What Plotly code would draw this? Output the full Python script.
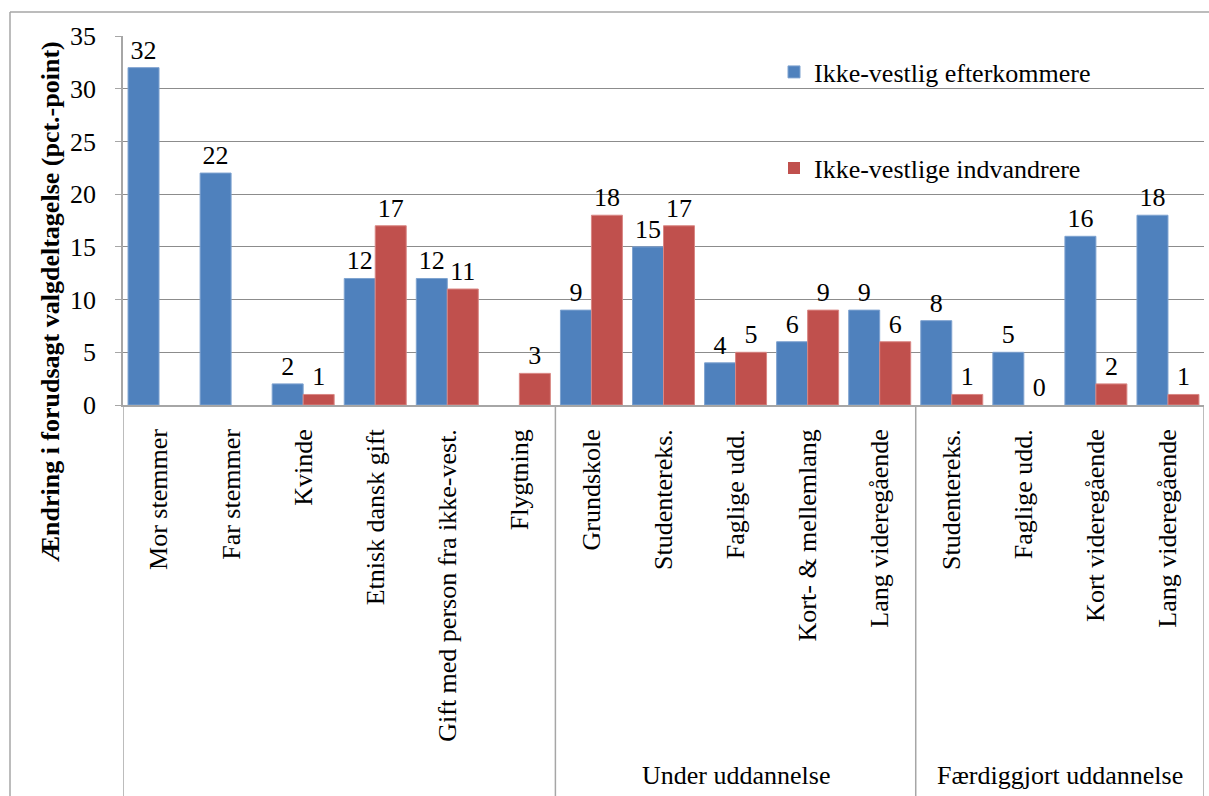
import plotly.graph_objects as go

categories = ["Mor stemmer", "Far stemmer", "Kvinde", "Etnisk dansk gift",
              "Gift med person fra ikke-vest.", "Flygtning",
              "Grundskole", "Studentereks.", "Faglige udd.", "Kort- & mellemlang",
              "Lang videregående",
              "Studentereks.", "Faglige udd.", "Kort videregående", "Lang videregående"]
groups = ["", "", "", "", "", "",
          "Under uddannelse", "Under uddannelse", "Under uddannelse",
          "Under uddannelse", "Under uddannelse",
          "Færdiggjort uddannelse", "Færdiggjort uddannelse",
          "Færdiggjort uddannelse", "Færdiggjort uddannelse"]
efterkommere = [32, 22, 2, 12, 12, None, 9, 15, 4, 6, 9, 8, 5, 16, 18]
indvandrere = [None, None, 1, 17, 11, 3, 18, 17, 5, 9, 6, 1, 0, 2, 1]
series_names = ["Ikke-vestlig efterkommere", "Ikke-vestlige indvandrere"]
y_title = "Ændring i forudsagt valgdeltagelse (pct.-point)"
y_ticks = [0, 5, 10, 15, 20, 25, 30, 35]

FONT = "Liberation Serif, Times New Roman, serif"
FS = 26
BLUE = "#4F81BD"
RED = "#C0504D"
GRID = "#8C8C8C"
AXIS = "#A6A6A6"

# pixel geometry
W, H = 1209, 796
L, R, T, B = 123, 5, 36, 391
plot_w = W - L - R
plot_h = H - T - B


def px_x(px):
    return (px - L) / plot_w


def px_y(py):
    return (H - B - py) / plot_h


xs = list(range(len(categories)))


def lab(v):
    return ["" if a is None else str(a) for a in v]


def edge(v):
    return [0 if (a is None or a == 0) else 1 for a in v]


fig = go.Figure()
fig.add_trace(go.Bar(
    x=xs, y=efterkommere, name=series_names[0],
    marker=dict(color=BLUE, line=dict(color="#7FA3D0", width=edge(efterkommere))),
    text=lab(efterkommere), textposition="outside", constraintext="none",
    textfont=dict(family=FONT, size=FS, color="black"), cliponaxis=False,
    legend="legend", showlegend=True,
))
fig.add_trace(go.Bar(
    x=xs, y=indvandrere, name=series_names[1],
    marker=dict(color=RED, line=dict(color="#D98784", width=edge(indvandrere))),
    text=lab(indvandrere), textposition="outside", constraintext="none",
    textfont=dict(family=FONT, size=FS, color="black"), cliponaxis=False,
    legend="legend2", showlegend=True,
))

shapes = []
# outer frame (left and top)
fx = px_x(10)
fy = px_y(12)
shapes.append(dict(type="line", xref="paper", yref="paper", x0=fx, x1=fx,
                   y0=px_y(H), y1=fy, line=dict(color=AXIS, width=1.5)))
shapes.append(dict(type="line", xref="paper", yref="paper", x0=fx, x1=px_x(W),
                   y0=fy, y1=fy, line=dict(color=AXIS, width=1.5)))

# group dividers in x-label area
bottom = px_y(H)
boundaries = [-0.5]
for i in range(1, len(groups)):
    if groups[i] != groups[i - 1]:
        boundaries.append(i - 0.5)
boundaries.append(len(groups) - 0.5)
for b in boundaries:
    shapes.append(dict(type="line", xref="x", yref="paper", x0=b, x1=b,
                       y0=bottom, y1=0, line=dict(color=AXIS, width=1.5)))

annotations = []
# group labels
start = 0
for i in range(1, len(groups) + 1):
    if i == len(groups) or groups[i] != groups[start]:
        if groups[start]:
            annotations.append(dict(
                x=(start + i - 1) / 2, xref="x", y=px_y(775), yref="paper",
                text=groups[start], showarrow=False, xanchor="center",
                yanchor="middle", font=dict(family=FONT, size=FS, color="black")))
        start = i

# y axis title
annotations.append(dict(
    x=px_x(50), xref="paper", y=px_y(302), yref="paper", text="<b>" + y_title + "</b>",
    textangle=-90, showarrow=False, xanchor="center", yanchor="middle",
    font=dict(family=FONT, size=FS, color="black")))

fig.update_layout(
    width=W, height=H,
    margin=dict(l=L, r=R, t=T, b=B, autoexpand=False),
    paper_bgcolor="white", plot_bgcolor="white",
    barmode="group", bargap=0.14, bargroupgap=0,
    font=dict(family=FONT, size=FS, color="black"),
    shapes=shapes, annotations=annotations,
    showlegend=True,
    legend=dict(x=px_x(774), y=px_y(72), xanchor="left", yanchor="middle",
                bgcolor="rgba(0,0,0,0)", font=dict(family=FONT, size=FS, color="black"),
                visible=True),
    legend2=dict(x=px_x(774), y=px_y(168), xanchor="left", yanchor="middle",
                 bgcolor="rgba(0,0,0,0)", font=dict(family=FONT, size=FS, color="black"),
                 visible=True),
    xaxis=dict(
        range=[-0.5, len(categories) - 0.5], tickmode="array", tickvals=xs,
        ticktext=categories, tickangle=-90, showgrid=False, zeroline=False,
        showline=True, linecolor=AXIS, linewidth=1.5, ticks="",
        ticklabelstandoff=12,
        tickfont=dict(family=FONT, size=FS, color="black"),
    ),
    yaxis=dict(
        range=[0, 35], tickmode="array", tickvals=y_ticks,
        showgrid=True, gridcolor=GRID, gridwidth=1, zeroline=False,
        showline=True, linecolor=AXIS, linewidth=1.5, ticks="outside",
        ticklen=6, tickcolor=AXIS, ticklabelstandoff=14,
        tickfont=dict(family=FONT, size=FS, color="black"),
    ),
)

fig.write_html("out.html", config={"displayModeBar": False},
               post_script="document.body.style.margin='0px';document.body.style.overflow='hidden';")
